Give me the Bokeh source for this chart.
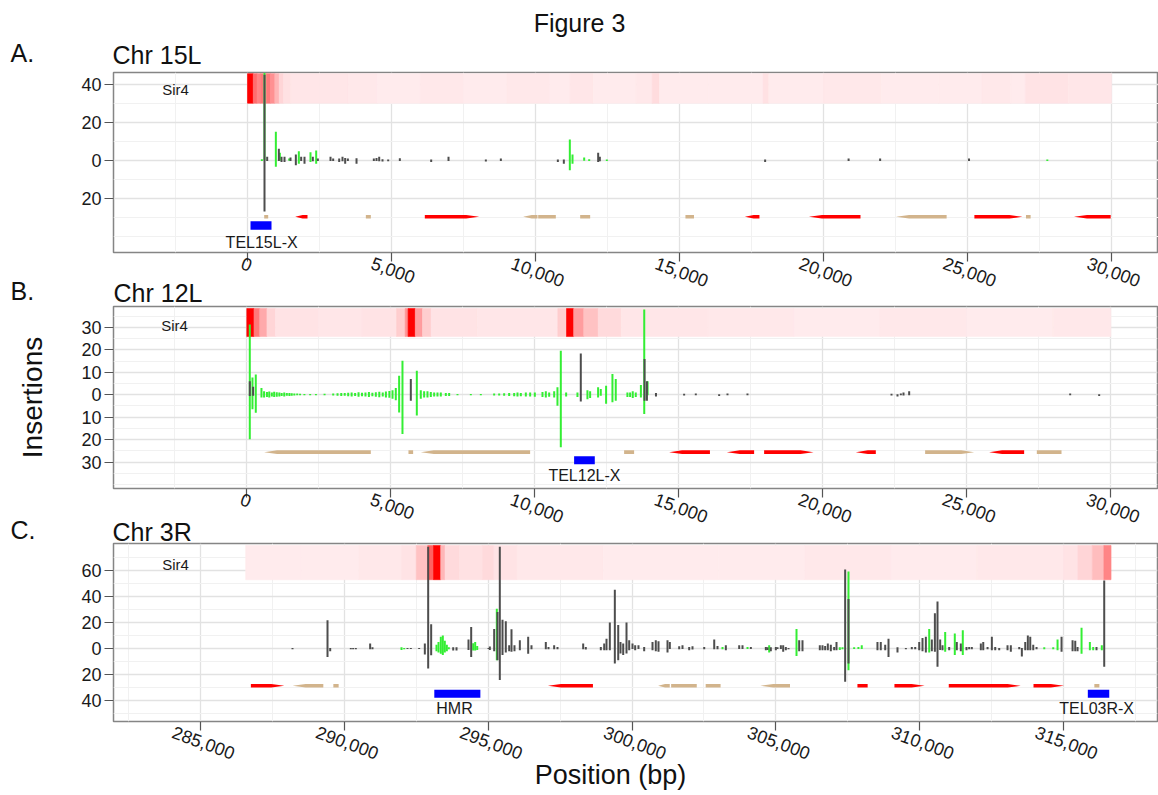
from bokeh.plotting import figure
from bokeh.models import (ColumnDataSource, Range1d, FixedTicker, Label, LinearAxis, GridBox,
                          LinearColorMapper)
from bokeh.transform import transform
from bokeh.core.properties import value
from bokeh.embed import file_html
from bokeh.resources import INLINE

# ------------------------------------------------------------------ data
# ---- Panel A : Chr 15L
A_sir4_edges = [0, 200, 330, 450, 560, 650, 800, 950, 1100, 1250, 1500, 2500, 3500, 4500,
                6000, 7500, 9000, 10500, 11200, 12000, 13500, 14050, 14300, 16000, 17900,
                18100, 20000, 22000, 24000, 25500, 26500, 27000, 28500, 30000]
A_sir4_val = [1.0, 0.55, 0.45, 0.5, 0.3, 0.5, 0.4, 0.25, 0.12, 0.07,
              0.05, 0.05, 0.04, 0.035, 0.04, 0.03, 0.04, 0.03, 0.05, 0.035,
              0.04, 0.09, 0.035, 0.03, 0.07, 0.035, 0.04, 0.03, 0.035, 0.04,
              0.03, 0.06, 0.05]
A_gray_pos = [590, 683, 1088, 1180, 1285, 1493, 1678, 1863, 1979, 2268,
              2442, 2882, 2974, 3183, 3298, 3391, 3484, 3785, 4386, 4479,
              4572, 4687, 4884, 5289, 6377, 6979, 8275, 8796, 10775, 10983,
              12175, 12233, 17972, 20870, 21965, 25051]
A_gray_up = [45, 1.8, 6.1, 1.8, 1.8, 1.4, 3, 1.8, 1.8, 1.8,
             0.9, 1.8, 0.9, 0.9, 1.8, 1.2, 0.9, 1.1, 0.9, 1.2,
             1.8, 0.5, 0.4, 1.1, 0.4, 1.8, 0.4, 0.9, 0.4, 0.4,
             4, 1.8, 0.4, 0.9, 0.9, 0.9]
A_gray_down = [27, 0.4, 0.4, 0.9, 0.9, 0.4, 2.6, 0.4, 1.8, 0.5,
               0.4, 0.4, 0.4, 0.9, 0.5, 1.8, 0.4, 1.8, 0.4, 0.4,
               0.5, 0.7, 0.5, 0.4, 0.9, 0.4, 0.7, 0.4, 0.9, 1.8,
               0.9, 0.5, 0.9, 0.4, 0.4, 0.4]
A_green_pos = [498, 590, 984, 1123, 1447, 1782, 2187, 2384, 11191, 11284, 11689, 11863, 12476, 27770]
A_green_up = [0.5, 46, 15, 3.9, 0.9, 4.7, 4.2, 5.1, 10.9, 3, 1.4, 0.5, 0.4, 0.4]
A_green_down = [0.4, 0, 3.5, 0.3, 0.3, 1.8, 1, 1.9, 5.3, 1.8, 0.3, 0.4, 0.4, 0.4]
A_gene_start = [579, 1655, 4109, 6157, 9571, 10092, 11550, 15205, 17268, 19493, 22519, 25238, 27029, 28696]
A_gene_end = [718, 2083, 4282, 8043, 10069, 10705, 11897, 15502, 17774, 21283, 24274, 26905, 27190, 29970]
A_gene_kind = ["tan", "red", "tan", "red", "tan", "tan", "tan", "tan", "red", "red", "tan", "red", "tan", "red"]
A_gene_dir = [0, -1, 0, 1, -1, 0, 0, 0, -1, -1, -1, 1, 0, -1]
A_feature_name = ["TEL15L-X"]
A_feature_start = [104]
A_feature_end = [833]

# ---- Panel B : Chr 12L
B_sir4_edges = [0, 250, 450, 700, 1000, 2500, 4000, 5200, 5500, 5600, 5850, 6100, 6400,
                8000, 10800, 11100, 11350, 11700, 12200, 13000, 16000, 19000, 22000, 25000,
                28000, 30000]
B_sir4_val = [1.0, 0.5, 0.3, 0.12, 0.06, 0.05, 0.06, 0.15, 0.4, 1.0,
              0.35, 0.15, 0.06, 0.05, 0.15, 1.0, 0.35, 0.2, 0.1, 0.05,
              0.04, 0.035, 0.04, 0.035, 0.04]
B_gray_pos = [104, 220, 5695, 11596, 13810, 13892, 14206, 15184, 15589, 16400,
              16689, 17383, 22384, 22592, 22708, 22800, 22997, 28587, 29594]
B_gray_up = [6, 3.5, 7, 18.4, 15.9, 6, 0.8, 0.4, 0.5, 0.2,
             0.5, 0.5, 0.4, 0.2, 0.5, 1.0, 1.5, 0.5, 0.2]
B_gray_down = [0.6, 0.5, 2.7, 3, 2.7, 2.7, 0.8, 0.4, 0.2, 0.6,
               0.2, 0.2, 0.4, 0.8, 0.2, 0.4, 0.2, 0.2, 0.6]
B_green_pos = [104, 197, 312, 509, 600, 700, 780, 870, 950, 1040,
               1130, 1210, 1300, 1390, 1480, 1560, 1650, 1750, 1850, 2000,
               2200, 2400, 2700, 3000, 3150, 3280, 3400, 3520, 3640, 3760,
               3880, 4000, 4120, 4240, 4360, 4480, 4600, 4720, 4830, 4950,
               5060, 5173, 5289, 5405, 5903, 6041, 6157, 6273, 6389, 6505,
               6620, 6736, 6910, 7026, 7315, 7778, 8125, 8588, 8762, 8935,
               9109, 9283, 9398, 9514, 9688, 9838, 10000, 10266, 10382, 10498,
               10672, 10786, 10902, 11087, 11480, 11827, 11920, 12197, 12290, 12475,
               12695, 12810, 13215, 13308, 13400, 13505, 13683, 13799, 13915]
B_green_up = [31.3, 7.7, 9, 3, 1.5, 1.2, 1.4, 1.0, 1.3, 1.1,
              1.0, 0.8, 1.0, 0.7, 0.8, 0.6, 0.5, 0.5, 0.4, 0.3,
              0.3, 0.3, 0.4, 0.5, 0.6, 0.8, 0.7, 0.9, 1.0, 0.8,
              1.1, 0.9, 1.0, 1.2, 0.9, 1.1, 1.3, 1.0, 1.4, 1.6,
              2.0, 3.0, 8.4, 15.1, 10.7, 2.0, 1.5, 1.5, 1.2, 1.0,
              1.0, 1.0, 0.8, 0.8, 0.3, 0.3, 0.3, 0.5, 0.5, 0.6,
              0.7, 0.8, 1.0, 0.8, 1.0, 1.0, 1.0, 1.2, 1.5, 1.0,
              1.5, 3.3, 19.6, 1.0, 1.0, 2.0, 1.5, 3.3, 2.5, 4.0,
              9.2, 7.0, 1.0, 1.0, 1.5, 1.0, 4.3, 38.0, 6.0]
B_green_down = [19.8, 6.5, 8, 1.3, 1.2, 1.0, 1.2, 0.8, 1.0, 0.9,
                0.8, 0.6, 0.8, 0.5, 0.6, 0.5, 0.4, 0.3, 0.3, 0.2,
                0.2, 0.2, 0.3, 0.4, 0.5, 0.6, 0.5, 0.7, 0.8, 0.6,
                0.9, 0.7, 0.8, 1.0, 0.7, 0.9, 1.1, 0.8, 1.2, 1.4,
                1.8, 2.5, 7.9, 17.5, 9.3, 1.8, 1.3, 1.3, 1.0, 0.8,
                0.8, 0.8, 0.6, 0.6, 0.2, 0.2, 0.2, 0.4, 0.4, 0.5,
                0.6, 0.7, 0.8, 0.7, 0.8, 0.8, 0.9, 1.0, 1.3, 0.9,
                1.3, 4.9, 23.4, 0.8, 1.0, 2.0, 1.5, 1.2, 0.5, 4.0,
                3.4, 2.7, 1.0, 1.0, 1.5, 1.0, 1.2, 8.6, 0.3]
B_gene_start = [602, 5613, 6041, 13100, 14662, 16666, 17962, 21144, 23551, 25774, 27429]
B_gene_end = [4305, 5775, 9837, 13447, 16080, 17615, 19675, 21839, 25253, 26989, 28286]
B_gene_kind = ["tan", "tan", "tan", "tan", "red", "red", "red", "red", "tan", "red", "tan"]
B_gene_dir = [-1, 0, -1, 0, -1, -1, 1, -1, 1, -1, 0]
B_feature_name = ["TEL12L-X"]
B_feature_start = [11364]
B_feature_end = [12082]

# ---- Panel C : Chr 3R
C_sir4_edges = [286570, 288500, 290500, 292000, 292500, 292900, 293100, 293350, 293500,
                294000, 294800, 295200, 296000, 299000, 303000, 306000, 309000, 312000,
                315000, 315500, 316000, 316400, 316650]
C_sir4_val = [0.03, 0.035, 0.04, 0.06, 0.2, 0.6, 1.0, 0.25, 0.1, 0.07,
              0.1, 0.06, 0.04, 0.035, 0.03, 0.04, 0.035, 0.04, 0.06, 0.12,
              0.22, 0.45]
C_gray_pos = [288198, 289415, 289508, 290225, 290306, 290399, 290897, 290978, 292195, 292311,
              292601, 292798, 292914, 293018, 293784, 293899, 294316, 294409, 295011, 295057,
              295208, 295324, 295404, 295498, 295612, 295730, 295810, 295914, 296100, 296390,
              296505, 297003, 297096, 297293, 297409, 298302, 298393, 298915, 299033, 299113,
              299228, 299402, 299520, 299599, 299693, 299808, 299901, 300016, 300109, 300224,
              300422, 300712, 300826, 300920, 301233, 301314, 301639, 301754, 301987, 302102,
              302509, 302857, 302971, 303261, 303725, 303840, 304130, 304651, 304709, 304824,
              304999, 305057, 305173, 305254, 305346, 305439, 305810, 305925, 306527, 306620,
              306713, 306806, 306910, 307026, 307107, 307408, 307524, 308531, 308646, 308800,
              308915, 309227, 309518, 309725, 309843, 309983, 310097, 310213, 310421, 310527,
              310618, 310711, 310792, 311024, 311289, 311428, 311626, 311719, 311811, 312124,
              312208, 312358, 312507, 312624, 312763, 313052, 313167, 313459, 313550, 313668,
              313758, 313842, 313946, 314061, 314930, 315313, 315406, 315486, 316145, 316413]
C_gray_up = [0.5, 21.6, 0.5, 0.5, 0.5, 0.5, 3.8, 1, 0.4, 0.4,
             0.5, 3.8, 78, 18.6, 1, 1, 7, 16.5, 0.5, 1.5,
             15, 28, 78, 22, 21, 2.5, 14.8, 2.5, 6.4, 9,
             2.5, 5, 1.3, 2.5, 1.3, 3.8, 1.3, 1.3, 3.8, 7.6,
             20, 45, 18, 5, 3.8, 20, 6.4, 3.8, 2.5, 2.5,
             1.3, 5, 6.4, 5.6, 6.4, 5, 1.8, 2.5, 1.3, 1.8,
             1.3, 7, 2, 2.5, 2.5, 2.5, 1.3, 1.3, 1, 1,
             1.3, 1, 2.5, 2.5, 1.3, 0.5, 6.4, 6.4, 2.5, 2.5,
             2, 3.8, 3, 1.3, 5, 60.6, 38, 5, 5, 3,
             7.6, 1, 0.5, 1.3, 1.3, 5, 8, 9, 7, 27,
             36, 7, 2.5, 1.3, 5, 3.8, 1.3, 1.3, 1.3, 3.8,
             5, 1.3, 9, 1.3, 0.5, 2.5, 2.5, 1.3, 0.5, 5,
             10, 9, 3, 1.3, 9, 6.4, 6, 1.3, 1.3, 52]
C_gray_down = [0.5, 6.4, 2, 0.5, 0.5, 0.5, 0.5, 0.5, 0.4, 0.4,
               0.3, 4.6, 15.3, 5.1, 1.5, 1.5, 1, 6.4, 0.3, 1,
               2, 9, 24, 5, 3, 2, 2.5, 2, 1.3, 4,
               0.5, 0.5, 0.5, 0.5, 0.5, 0.5, 0.8, 1.3, 1.3, 1.3,
               1.3, 11.5, 9, 3.8, 5, 3.8, 1.3, 0.3, 1.3, 0.3,
               2, 1.3, 2, 2.5, 3, 0.3, 0.5, 0.3, 1.3, 0.8,
               0.5, 0.5, 0.5, 1.3, 0.3, 0.3, 0.3, 1.3, 1, 2,
               1.3, 0.3, 0.3, 2.5, 1.3, 0.5, 2, 2, 1.3, 1.3,
               1.3, 1.3, 2, 1.3, 1.3, 25.4, 11.5, 1.3, 1.3, 1.3,
               6.4, 3, 0.5, 0.5, 0.5, 1.3, 2, 3, 2, 2.5,
               14, 1, 1.3, 1.3, 1.3, 2, 1.3, 0.5, 0.5, 1.3,
               1.3, 0.5, 1.3, 1.3, 1.3, 1.3, 2.5, 0.5, 6, 1.3,
               1.3, 1.3, 1.3, 0.5, 2.5, 2, 2, 2, 1.3, 14]
C_green_pos = [291987, 292080, 293203, 293273, 293353, 293423, 293492, 293562, 293631, 294479,
               294548, 294618, 295300, 303145, 304014, 304767, 305717, 307222, 307315, 307524,
               307720, 307869, 307985, 310330, 310885, 311219, 311497, 314329, 314641, 314791,
               315625, 315914, 316030, 316329]
C_green_up = [1, 0.5, 3, 5, 9, 10, 6, 3, 1, 4,
              5, 2, 30.5, 1.3, 1.3, 2.5, 15, 1, 1, 59,
              1, 1.3, 2.5, 15, 12.7, 11.5, 14, 1, 1, 7,
              16, 5, 1.3, 2.5]
C_green_down = [1, 0.5, 2, 3, 4, 5, 3, 2, 0.5, 1.5,
                1.5, 1, 9, 0.5, 0.3, 3, 5.6, 1, 0.5, 16.5,
                0.3, 0.3, 0.3, 3, 2.5, 5, 5, 0.5, 0.5, 1.3,
                4, 1.3, 1.3, 1.3]
C_gene_start = [286751, 288202, 289618, 297076, 300904, 301359, 302560, 304460, 307835, 309120, 311010, 313954, 316070]
C_gene_end = [287913, 289270, 289802, 298642, 301311, 302250, 303078, 305490, 308190, 310170, 313510, 315010, 316245]
C_gene_kind = ["red", "tan", "tan", "red", "tan", "tan", "tan", "tan", "red", "red", "red", "red", "tan"]
C_gene_dir = [1, -1, 0, -1, -1, 0, 0, -1, 0, 1, 1, 1, 0]
C_feature_name = ["HMR", "TEL03R-X"]
C_feature_start = [293127, 315843]
C_feature_end = [294728, 316588]

# page texts
page_texts = ["Figure 3", "A.", "Chr 15L", "B.", "Chr 12L", "C.", "Chr 3R"]

# ------------------------------------------------------------------ style
FONT = "Liberation Sans"
GREEN = "#33EE33"
GRAY = "#4D4D4D"
GENE_COL = {"red": "#FF0000", "tan": "#D2B48C"}
BLUE = "#0000FF"
PALETTE = ["#%02x%02x%02x" % (255, round(242 * (1 - i / 100)), round(244 * (1 - i / 100)))
           for i in range(101)]
mapper = LinearColorMapper(palette=PALETTE, low=0, high=1)
XFS = 18  # x tick label size, px
TICK = 9


def label_width(s, fs):
    return sum(0.556 if c.isdigit() else 0.278 for c in s) * fs


def gene_polys(starts, ends, dirs, y, half, taper):
    xs, ys = [], []
    for s, e, d in zip(starts, ends, dirs):
        t = min(taper, 0.6 * (e - s))
        if d > 0:
            xs.append([s, e - t, e, e - t, s])
            ys.append([y - half, y - half, y, y + half, y + half])
        elif d < 0:
            xs.append([s, s + t, e, e, s + t])
            ys.append([y, y - half, y - half, y + half, y + half])
        else:
            xs.append([s, e, e, s])
            ys.append([y - half, y - half, y + half, y + half])
    return xs, ys


def panel(spec):
    p = figure(frame_width=spec["fw"], frame_height=spec["fh"],
               x_range=Range1d(*spec["xr"]), y_range=Range1d(*spec["yr"]),
               min_border_left=spec["bl"], min_border_right=spec["br"],
               min_border_top=spec["bt"], min_border_bottom=spec["bb"],
               output_backend="svg", toolbar_location=None, tools="")
    p.background_fill_color = "white"
    p.border_fill_color = "white"
    p.outline_line_color = "#858585"
    p.outline_line_width = 1.5

    x0, x1 = spec["xr"]
    y0, y1 = spec["yr"]
    bp_per_px = (x1 - x0) / spec["fw"]
    unit_per_px = (y1 - y0) / spec["fh"]

    # grid ticks
    xt = FixedTicker(ticks=spec["xmaj"], minor_ticks=spec["xmin"])
    yt = FixedTicker(ticks=spec["ymaj"], minor_ticks=spec["ymin"])
    p.xgrid[0].ticker = xt
    p.ygrid[0].ticker = yt

    # x axis: tick marks only (drawn as minor ticks, no labels) ...
    xa = p.xaxis[0]
    xa.ticker = FixedTicker(ticks=[], minor_ticks=spec["xmaj"])
    xa.axis_line_color = None
    xa.major_tick_out = TICK
    xa.minor_tick_out = TICK
    xa.minor_tick_in = 0
    xa.minor_tick_line_color = "#555555"
    xa.minor_tick_line_width = 1.2
    xa.major_label_standoff = 0
    # ... and centred rotated labels on a second axis
    labels = ["{:,}".format(t) for t in spec["xmaj"]]
    shifted = [int(round(t - (0.4 * label_width(s, XFS) + 1.5) * bp_per_px))
               for t, s in zip(spec["xmaj"], labels)]
    xl = LinearAxis(ticker=FixedTicker(ticks=shifted),
                    major_label_overrides=dict(zip(shifted, labels)))
    xl.major_tick_line_color = None
    xl.minor_tick_line_color = None
    xl.axis_line_color = None
    xl.major_tick_out = 0
    xl.major_tick_in = 0
    xl.major_label_standoff = 1
    xl.major_label_orientation = -0.35
    xl.major_label_text_font = FONT
    xl.major_label_text_font_size = f"{XFS}px"
    xl.major_label_text_color = "#1A1A1A"
    p.add_layout(xl, "below")

    ya = p.yaxis[0]
    ya.ticker = yt
    ya.major_label_overrides = {t: str(abs(t)) for t in spec["ymaj"]}
    ya.major_label_text_font = FONT
    ya.major_label_text_font_size = "18px"
    ya.major_label_text_color = "#1A1A1A"
    ya.major_label_standoff = 3
    ya.axis_line_color = None
    ya.major_tick_out = TICK
    ya.major_tick_in = 0
    ya.minor_tick_line_color = None
    ya.major_tick_line_color = "#555555"
    ya.major_tick_line_width = 1.2

    p.grid.grid_line_color = "#E2E2E2"
    p.grid.grid_line_width = 1.3
    p.grid.minor_grid_line_color = "#F1F1F1"
    p.grid.minor_grid_line_width = 1

    # Sir4 heat strip
    e = spec["heat_edges"]
    hs = ColumnDataSource(dict(left=e[:-1], right=e[1:], val=spec["heat_val"]))
    hb, ht = spec["heat_y"]
    p.quad(left="left", right="right", bottom=hb, top=ht, source=hs,
           fill_color=transform("val", mapper), line_color=transform("val", mapper),
           line_width=0.6)

    # insertion bars
    g = spec["green"]
    gs = ColumnDataSource(dict(x=g[0], y1=g[1], y0=[-v for v in g[2]]))
    p.segment(x0="x", x1="x", y0="y0", y1="y1", source=gs, line_color=GREEN, line_width=2)
    k = spec["gray"]
    ks = ColumnDataSource(dict(x=k[0], y1=k[1], y0=[-v for v in k[2]]))
    p.segment(x0="x", x1="x", y0="y0", y1="y1", source=ks, line_color=GRAY, line_width=2)

    # genes
    gst, gen, gkind, gdir = spec["genes"]
    xs, ys = gene_polys(gst, gen, gdir, spec["gene_y"], 1.8 * unit_per_px, 13 * bp_per_px)
    p.patches(xs=xs, ys=ys, fill_color=[GENE_COL[c] for c in gkind], line_color=None)

    # features (blue boxes + names)
    fname, fst, fen = spec["features"]
    fb, ft = spec["feat_y"]
    p.quad(left=fst, right=fen, bottom=fb, top=ft, fill_color=BLUE, line_color=None)
    for name, lx in zip(fname, spec["feat_label_x"]):
        p.add_layout(Label(x=lx, y=spec["feat_label_y"], text=name, text_font=FONT,
                           text_font_size="16px", text_align="center",
                           text_baseline="middle", text_color="#1A1A1A"))
    p.add_layout(Label(x=spec["sir4_xy"][0], y=spec["sir4_xy"][1], text="Sir4", text_font=FONT,
                       text_font_size="15px", text_align="center", text_baseline="middle",
                       text_color="#1A1A1A"))
    return p


xmajA = [0, 5000, 10000, 15000, 20000, 25000, 30000]
xminA = [-2500, 2500, 7500, 12500, 17500, 22500, 27500]

pA = panel(dict(
    fw=1045, fh=180, bl=111, br=2, bt=72, bb=52,
    xr=(-4653, 31630), yr=(-48.6, 46.2),
    xmaj=xmajA, xmin=xminA, ymaj=[-20, 0, 20, 40], ymin=[-40, -30, -10, 10, 30],
    heat_edges=A_sir4_edges, heat_val=A_sir4_val, heat_y=(30, 45.6),
    green=(A_green_pos, A_green_up, A_green_down), gray=(A_gray_pos, A_gray_up, A_gray_down),
    genes=(A_gene_start, A_gene_end, A_gene_kind, A_gene_dir), gene_y=-29.8,
    features=(A_feature_name, A_feature_start, A_feature_end), feat_y=(-36.6, -32.1),
    feat_label_x=[490], feat_label_y=-43.2, sir4_xy=(-2500, 37),
))

pB = panel(dict(
    fw=1044, fh=182, bl=113, br=1, bt=2, bb=54,
    xr=(-4628, 31619), yr=(-41.8, 39.3),
    xmaj=xmajA, xmin=xminA, ymaj=[-30, -20, -10, 0, 10, 20, 30],
    ymin=[-40, -35, -25, -15, -5, 5, 15, 25, 35],
    heat_edges=B_sir4_edges, heat_val=B_sir4_val, heat_y=(25.9, 38.4),
    green=(B_green_pos, B_green_up, B_green_down), gray=(B_gray_pos, B_gray_up, B_gray_down),
    genes=(B_gene_start, B_gene_end, B_gene_kind, B_gene_dir), gene_y=-25.6,
    features=(B_feature_name, B_feature_start, B_feature_end), feat_y=(-31, -27.4),
    feat_label_x=[11723], feat_label_y=-36.1, sir4_xy=(-2510, 31),
))
ylab = pB.yaxis[0]
ylab.axis_label = "Insertions"
ylab.axis_label_text_font = FONT
ylab.axis_label_text_font_size = "28px"
ylab.axis_label_text_font_style = "normal"
ylab.axis_label_text_color = "#111111"
ylab.axis_label_standoff = 30

pC = panel(dict(
    fw=1044, fh=178, bl=111, br=3, bt=1, bb=74,
    xr=(281976, 318265), yr=(-55.8, 80.4),
    xmaj=[285000, 290000, 295000, 300000, 305000, 310000, 315000],
    xmin=[282500, 287500, 292500, 297500, 302500, 307500, 312500, 317500],
    ymaj=[-40, -20, 0, 20, 40, 60], ymin=[-50, -30, -10, 10, 30, 50, 70],
    heat_edges=C_sir4_edges, heat_val=C_sir4_val, heat_y=(52.7, 78.9),
    green=(C_green_pos, C_green_up, C_green_down), gray=(C_gray_pos, C_gray_up, C_gray_down),
    genes=(C_gene_start, C_gene_end, C_gene_kind, C_gene_dir), gene_y=-28.5,
    features=(C_feature_name, C_feature_start, C_feature_end), feat_y=(-37.6, -31.6),
    feat_label_x=[293829, 316150], feat_label_y=-46, sir4_xy=(284131, 64),
))

# transparent page-sized overlay carrying the headings (page pixel coordinates)
ov = figure(width=1158, height=795, x_range=Range1d(0, 1158), y_range=Range1d(795, 0),
            x_axis_type=None, y_axis_type=None, min_border=0,
            output_backend="svg", toolbar_location=None, tools="")
try:
    ov.frame_align = False
except Exception:
    pass
ov.background_fill_color = None
ov.border_fill_color = None
ov.outline_line_color = None
ov.grid.visible = False
head_src = ColumnDataSource(dict(
    x=[579, 10, 112, 10, 113, 10, 112],
    y=[22, 52, 54, 290, 292, 529, 531],
    text=page_texts,
    align=["center", "left", "left", "left", "left", "left", "left"],
))
ov.text(x="x", y="y", text="text", text_align="align", text_baseline="middle",
        text_font=value(FONT), text_font_size=value("25px"), text_color="#111111",
        source=head_src)
ov.text(x=[610], y=[774], text=["Position (bp)"], text_align="center", text_baseline="middle",
        text_font=value(FONT), text_font_size=value("27px"), text_color="#111111")

layout = GridBox(children=[(pA, 0, 0), (pB, 1, 0), (pC, 2, 0), (ov, 0, 0, 3, 1)], spacing=0)
open("out.html", "w").write(file_html(layout, INLINE))
